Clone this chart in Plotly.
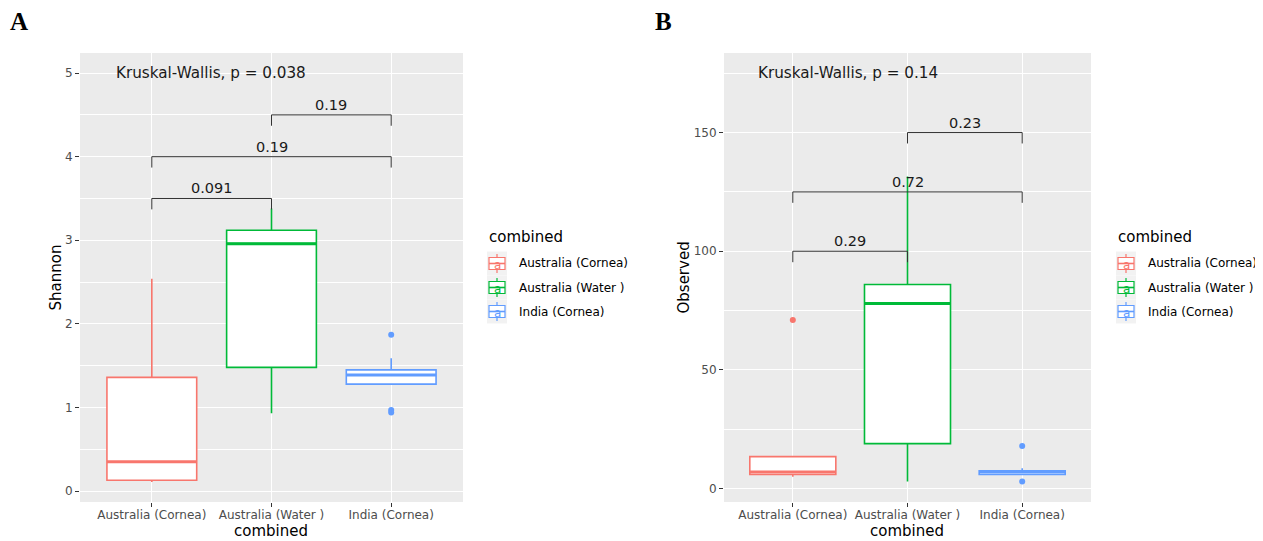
import plotly.graph_objects as go

# ---------------- data ----------------
categories = ["Australia (Cornea)", "Australia (Water )", "India (Cornea)"]
colors = ["#F8766D", "#00BA38", "#619CFF"]

shannon_q1 = [0.13, 1.48, 1.28]
shannon_median = [0.35, 2.96, 1.39]
shannon_q3 = [1.36, 3.12, 1.45]
shannon_lower = [0.11, 0.93, 1.28]
shannon_upper = [2.54, 3.38, 1.59]
shannon_outliers = [[], [], [1.87, 0.97, 0.94]]

observed_q1 = [6.0, 19.0, 6.0]
observed_median = [7.0, 78.0, 7.0]
observed_q3 = [13.5, 86.0, 7.5]
observed_lower = [5.0, 3.0, 6.0]
observed_upper = [13.5, 131.5, 8.6]
observed_outliers = [[71.0], [], [18.0, 3.0]]

pairs = [(0, 1), (0, 2), (1, 2)]
shannon_bracket_y = [3.5, 4.0, 4.5]
shannon_tip = 0.13
shannon_p = ["0.091", "0.19", "0.19"]
shannon_kw = "Kruskal-Wallis, p = 0.038"
shannon_kw_y = 5.0

observed_bracket_y = [100.0, 125.0, 150.0]
observed_tip = 4.6
observed_p = ["0.29", "0.72", "0.23"]
observed_kw = "Kruskal-Wallis, p = 0.14"
observed_kw_y = 175.0

# --------------- layout constants ---------------
OFF = 8                      # page body margin of the html page
W, H = 1263 - OFF, 541 - OFF
BOX_W = 0.75
FONT = "DejaVu Sans"
BG = "#EBEBEB"


def px(sx):
    return (sx - OFF) / W


def py(sy):
    return 1 - (sy - OFF) / H


fig = go.Figure()
shapes = []


def add_panel(xref, yref, q1, med, q3, lo, up, outl, by, tip, plabels, kw, kwy):
    for i, cat in enumerate(categories):
        fig.add_trace(go.Box(
            x=[i], q1=[q1[i]], median=[med[i]], q3=[q3[i]],
            lowerfence=[lo[i]], upperfence=[up[i]],
            width=BOX_W, whiskerwidth=0, boxpoints=False,
            line=dict(color=colors[i], width=1.6), fillcolor="white",
            name=cat, xaxis=xref, yaxis=yref, showlegend=False, hoverinfo="skip",
        ))
        fig.add_trace(go.Scatter(
            x=[i - BOX_W / 2, i + BOX_W / 2], y=[med[i], med[i]], mode="lines",
            line=dict(color=colors[i], width=3), showlegend=False,
            xaxis=xref, yaxis=yref, hoverinfo="skip",
        ))
        if outl[i]:
            fig.add_trace(go.Scatter(
                x=[i] * len(outl[i]), y=outl[i], mode="markers",
                marker=dict(color=colors[i], size=6), showlegend=False,
                xaxis=xref, yaxis=yref, hoverinfo="skip",
            ))
    for (a, b), yv, lab in zip(pairs, by, plabels):
        fig.add_trace(go.Scatter(
            x=[a, a, b, b], y=[yv - tip, yv, yv, yv - tip], mode="lines",
            line=dict(color="#333333", width=1), showlegend=False,
            xaxis=xref, yaxis=yref, hoverinfo="skip",
        ))
        fig.add_annotation(x=(a + b) / 2, y=yv, xref=xref, yref=yref, text=lab,
                           showarrow=False, yanchor="bottom", xanchor="center",
                           font=dict(family=FONT, size=14.5, color="#1a1a1a"))
    fig.add_annotation(x=-0.32, y=kwy, xref=xref, yref=yref, text=kw,
                       showarrow=False, xanchor="left", yanchor="middle",
                       font=dict(family=FONT, size=15.2, color="#1a1a1a"))


add_panel("x", "y", shannon_q1, shannon_median, shannon_q3,
          shannon_lower, shannon_upper, shannon_outliers, shannon_bracket_y,
          shannon_tip, shannon_p, shannon_kw, shannon_kw_y)
add_panel("x2", "y2", observed_q1, observed_median, observed_q3,
          observed_lower, observed_upper, observed_outliers, observed_bracket_y,
          observed_tip, observed_p, observed_kw, observed_kw_y)

ydom = [py(502), py(53)]


def xaxis(dom, anchor):
    return dict(domain=dom, range=[-0.6, 2.6], tickmode="array", tickvals=[0, 1, 2],
                ticktext=categories, showgrid=True, gridcolor="white", gridwidth=1.1,
                zeroline=False, ticks="outside", ticklen=4, tickcolor="#333333",
                ticklabelstandoff=-2,
                tickfont=dict(family=FONT, size=12, color="#4D4D4D"), anchor=anchor,
                fixedrange=True)


def yaxis(rng, dtick, minor, anchor):
    return dict(domain=ydom, range=rng, dtick=dtick, tick0=0, showgrid=True,
                gridcolor="white", gridwidth=1.1, zeroline=False, ticks="outside",
                ticklen=4, tickcolor="#333333", anchor=anchor,
                tickfont=dict(family=FONT, size=12, color="#4D4D4D"),
                minor=dict(dtick=minor, tick0=0, showgrid=True, gridcolor="white",
                           gridwidth=0.5),
                fixedrange=True)


# axis titles
for txt, sx, sy, ang in [("Shannon", 55, 277.5, -90), ("Observed", 683, 277.5, -90),
                         ("combined", 271, 531, 0), ("combined", 907, 531, 0)]:
    fig.add_annotation(x=px(sx), y=py(sy), xref="paper", yref="paper", text=txt,
                       showarrow=False, xanchor="center", yanchor="middle", textangle=ang,
                       font=dict(family=FONT, size=15, color="black"))

# custom ggplot-like legends
KEY_W, KEY_H = 20, 24
for lx, tx in [(487, 517), (1116, 1146)]:
    fig.add_annotation(x=px(lx), y=py(237), xref="paper", yref="paper", text="combined",
                       showarrow=False, xanchor="left", yanchor="middle",
                       font=dict(family=FONT, size=15, color="black"))
    top = 251.5
    for i, cat in enumerate(categories):
        y0 = top + i * KEY_H
        y1 = y0 + KEY_H
        cx = lx + KEY_W / 2
        shapes.append(dict(type="rect", xref="paper", yref="paper",
                           x0=px(lx), x1=px(lx + KEY_W), y0=py(y1), y1=py(y0),
                           fillcolor="#F2F2F2", line=dict(width=0), layer="below"))
        bt, bb = y0 + KEY_H * 0.25, y0 + KEY_H * 0.75
        shapes.append(dict(type="rect", xref="paper", yref="paper",
                           x0=px(lx + 2), x1=px(lx + KEY_W - 2), y0=py(bb), y1=py(bt),
                           fillcolor="white", line=dict(color=colors[i], width=1.2)))
        for a, b in [(y0 + KEY_H * 0.1, bt), (bb, y0 + KEY_H * 0.9)]:
            shapes.append(dict(type="line", xref="paper", yref="paper",
                               x0=px(cx), x1=px(cx), y0=py(a), y1=py(b),
                               line=dict(color=colors[i], width=1.2)))
        ym = y0 + KEY_H / 2
        shapes.append(dict(type="line", xref="paper", yref="paper",
                           x0=px(lx + 2), x1=px(lx + KEY_W - 2), y0=py(ym), y1=py(ym),
                           line=dict(color=colors[i], width=1.6)))
        fig.add_annotation(x=px(cx), y=py(ym + 1), xref="paper", yref="paper", text="a",
                           showarrow=False, xanchor="center", yanchor="middle",
                           font=dict(family=FONT, size=12, color=colors[i]))
        fig.add_annotation(x=px(tx), y=py(ym), xref="paper", yref="paper", text=cat,
                           showarrow=False, xanchor="left", yanchor="middle",
                           font=dict(family=FONT, size=12, color="black"))

for txt, sx in [("A", 8), ("B", 653)]:
    fig.add_annotation(x=px(sx), y=py(22), xref="paper", yref="paper", text="<b>" + txt + "</b>",
                       showarrow=False, xanchor="left", yanchor="middle",
                       font=dict(family="Liberation Serif", size=25, color="black"))

fig.update_layout(
    width=W, height=H, margin=dict(l=0, r=0, t=0, b=0),
    paper_bgcolor="white", plot_bgcolor=BG, showlegend=False,
    xaxis=xaxis([px(80), px(463)], "y"),
    xaxis2=xaxis([px(724), px(1091)], "y2"),
    yaxis=yaxis([-0.13, 5.24], 1, 0.5, "x"),
    yaxis2=yaxis([-5.6, 183.5], 50, 25, "x2"),
    shapes=shapes,
)

fig.write_html("out.html")
